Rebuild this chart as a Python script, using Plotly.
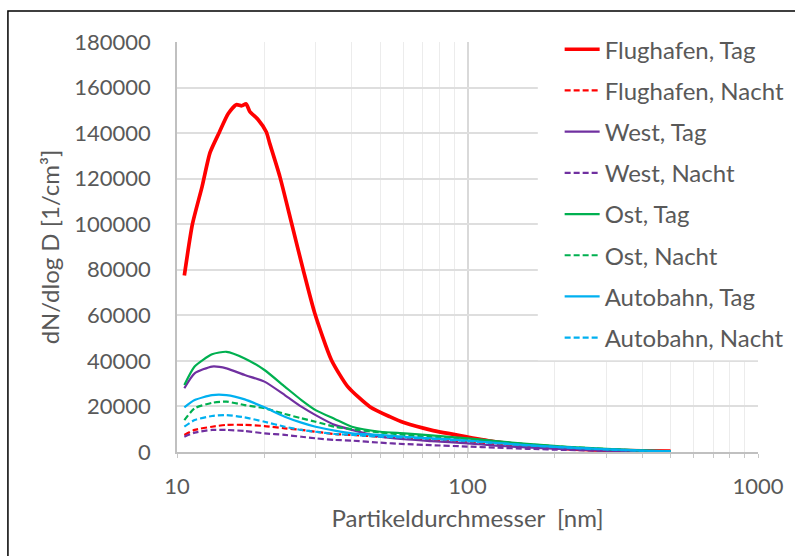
import plotly.graph_objects as go

# Particle size distributions (dN/dlog D) at four sites, day and night
diam_flughafen_tag = [10.6, 11.3, 12.2, 13.0, 14.0, 15.0, 16.0, 16.7, 17.3, 17.8, 19.0,
                      20.3, 20.85, 22.6, 24.8, 27.2, 29.8, 34.0, 38.7, 46.1, 54.0,
                      60.7, 75, 100, 125, 160, 220, 300, 400, 500]
flughafen_tag = [77500, 100000, 116500, 131500, 140500, 148500, 152500, 152000, 152800,
                 149500, 146000, 140500, 135500, 120900, 100400, 79900, 60900, 40400,
                 28700, 19900, 15500, 12800, 9600, 6600, 4500, 3000, 1500, 800, 500, 400]

diam = [10.6, 11.5, 13.2, 14.8, 17.1, 20, 23.5, 26.8, 30, 34.9, 40, 50, 60.7,
        75, 100, 125, 160, 220, 300, 400, 500]
flughafen_nacht = [7500, 9700, 11100, 11900, 11900, 11400, 10400, 9700, 8900, 7900,
                   7500, 6700, 6000, 5200, 4300, 3500, 2600, 1700, 1000, 450, 200]
west_tag = [28000, 34500, 37500, 36700, 33800, 30900, 25000, 19900, 16200, 11900,
            9700, 6700, 5600, 4800, 3800, 2800, 2000, 1200, 600, 200, 100]
west_nacht = [6700, 8500, 9700, 9700, 9200, 8200, 7500, 6700, 6000, 5300,
              5000, 4100, 3500, 3000, 2400, 1900, 1400, 900, 500, 200, 100]
ost_tag = [29400, 37500, 42900, 44000, 41100, 36000, 28700, 22800, 18400, 14500,
           11100, 8900, 8200, 7300, 6000, 4800, 3600, 2300, 1400, 700, 300]
ost_nacht = [14000, 19200, 21600, 22100, 20600, 19200, 16700, 14800, 13300, 11100,
             10000, 8600, 7500, 6500, 5500, 4500, 3400, 2200, 1300, 600, 300]
autobahn_tag = [19600, 22800, 25000, 25000, 23100, 19600, 15500, 12900, 11100, 9400,
                8200, 7500, 6700, 6000, 5000, 4000, 3000, 2000, 1200, 600, 300]
autobahn_nacht = [11100, 14000, 15800, 16200, 15200, 13300, 11100, 9700, 8900, 7900,
                  7500, 6700, 6400, 5800, 4800, 3900, 2900, 1900, 1100, 500, 250]

x_ticks = [10, 100, 1000]
x_minor = [20, 30, 40, 50, 60, 70, 80, 90, 200, 300, 400, 500, 600, 700, 800, 900]
y_ticks = list(range(0, 180001, 20000))

RED, PURPLE, GREEN, CYAN = "#FF0000", "#7030A0", "#00B050", "#00B0F0"
TEXT = "#595959"
FONT = "Lato"

series = [
    ("Flughafen, Tag", diam_flughafen_tag, flughafen_tag, RED, "solid", 3.7),
    ("Flughafen, Nacht", diam, flughafen_nacht, RED, "6px,3px", 2.2),
    ("West, Tag", diam, west_tag, PURPLE, "solid", 2.2),
    ("West, Nacht", diam, west_nacht, PURPLE, "6px,3px", 2.2),
    ("Ost, Tag", diam, ost_tag, GREEN, "solid", 2.2),
    ("Ost, Nacht", diam, ost_nacht, GREEN, "6px,3px", 2.2),
    ("Autobahn, Tag", diam, autobahn_tag, CYAN, "solid", 2.2),
    ("Autobahn, Nacht", diam, autobahn_nacht, CYAN, "6px,3px", 2.2),
]

fig = go.Figure()
for i, (name, xs, ys, color, dash, width) in enumerate(series):
    fig.add_trace(go.Scatter(
        x=xs, y=ys, name=name, mode="lines", legendgroup=f"g{i}",
        line=dict(color=color, dash=dash, width=width, shape="spline", smoothing=0.6),
    ))

fig.update_layout(
    width=795, height=556,
    margin=dict(l=177, r=37, t=42, b=104, autoexpand=False),
    paper_bgcolor="white", plot_bgcolor="white",
    font=dict(family=FONT, size=22, color=TEXT),
    showlegend=True,
    legend=dict(
        x=0.6586, xanchor="left", y=0.224, yanchor="bottom",
        bgcolor="rgba(0,0,0,0)", borderwidth=0, itemwidth=35,
        font=dict(family=FONT, size=24, color=TEXT),
        traceorder="grouped", tracegroupgap=7,
    ),
    xaxis=dict(
        type="log", range=[1, 3],
        tickvals=x_ticks, ticktext=[str(v) for v in x_ticks],
        ticks="outside", ticklen=4, tickcolor="#c8c8c8",
        showgrid=True, gridcolor="#d9d9d9", gridwidth=1.5,
        showline=True, linecolor="#c0c0c0", linewidth=1.5,
        minor=dict(tickvals=x_minor, ticks="outside", ticklen=4, tickcolor="#c8c8c8",
                   showgrid=True, gridcolor="#ececec", gridwidth=1),
        ticklabelstandoff=10,
        title=dict(text="Partikeldurchmesser  [nm]", standoff=12,
                   font=dict(family=FONT, size=24, color=TEXT)),
        zeroline=False,
    ),
    yaxis=dict(
        range=[0, 180000], tickvals=y_ticks, tickformat="d",
        showgrid=True, gridcolor="#dedede", gridwidth=1.5,
        showline=True, linecolor="#c0c0c0", linewidth=1.5,
        ticks="", ticklabelstandoff=20,
        title=dict(text="dN/dlog D [1/cm³]", standoff=8,
                   font=dict(family=FONT, size=24, color=TEXT)),
        zeroline=False,
    ),
)

# White panel behind the legend, hiding the gridlines there
fig.add_shape(type="rect", xref="paper", yref="paper",
              x0=0.621, x1=1.2, y0=0.224, y1=1.05,
              line=dict(width=0), fillcolor="white", layer="above")

# Frame around the chart (top and left edges fall inside the page)
fig.add_shape(type="rect", xref="paper", yref="paper",
              x0=-0.291, x1=1.3, y0=-0.5, y1=1.0756,
              line=dict(color="black", width=1.5), fillcolor="rgba(0,0,0,0)", layer="above")

fig.write_html("out.html")
